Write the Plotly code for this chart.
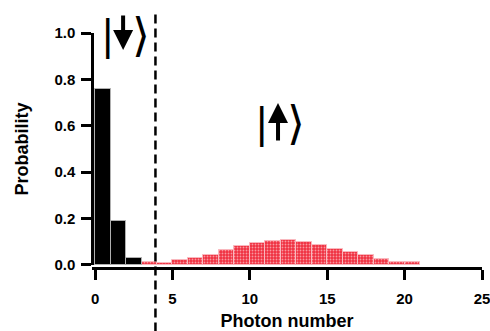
import plotly.graph_objects as go

# Data
down_n = [0, 1, 2]
down_p = [0.757, 0.19, 0.029]
up_n = list(range(3, 21))
up_p = [0.013, 0.009, 0.02, 0.031, 0.044, 0.066, 0.081, 0.093, 0.103, 0.107,
        0.100, 0.085, 0.071, 0.057, 0.042, 0.028, 0.014, 0.015]
x_ticks = [0, 5, 10, 15, 20, 25]
y_ticks = [0, 0.2, 0.4, 0.6, 0.8, 1.0]
threshold = 3.9

font_b = dict(family="Liberation Sans, Arial, sans-serif", size=15, color="black")

fig = go.Figure()
fig.add_trace(go.Bar(
    x=[n + 0.5 for n in up_n], y=up_p, width=1,
    marker=dict(color="#f03040", line=dict(color="#f9b8be", width=1),
                pattern=dict(shape=".", fgcolor="#ffffff", bgcolor="#f03040",
                             size=3, solidity=0.3)),
    showlegend=False))
fig.add_trace(go.Bar(
    x=[n + 0.5 for n in down_n], y=down_p, width=1,
    marker=dict(color="black", line=dict(color="#b0b0b0", width=1)),
    showlegend=False))

fig.add_shape(type="line", xref="x", yref="paper", x0=threshold, x1=threshold,
              y0=-0.27, y1=1.1, line=dict(color="black", width=2.5, dash="9px,5px"))

def ket(x_bar, x_arrow, x_bra, y_mid, head_y, ay):
    fig.add_annotation(x=x_bar, y=y_mid, xref="x", yref="y", text="|", showarrow=False,
                       font=dict(family="DejaVu Sans", size=40, color="black"),
                       xanchor="center", yanchor="middle")
    fig.add_annotation(x=x_bra, y=y_mid, xref="x", yref="y", text="⟩", showarrow=False,
                       font=dict(family="DejaVu Sans", size=46, color="black"),
                       xanchor="center", yanchor="middle")
    fig.add_annotation(x=x_arrow, y=head_y, xref="x", yref="y", text="",
                       showarrow=True, arrowhead=2, arrowwidth=4, arrowsize=1.0,
                       arrowcolor="black", ax=0, ay=ay, standoff=0)

ket(0.78, 1.81, 2.97, 0.99, 0.927, -36)
ket(10.78, 11.82, 13.0, 0.61, 0.698, 39)

fig.update_layout(
    width=490, height=331,
    margin=dict(l=92, r=8, t=33, b=63),
    paper_bgcolor="white", plot_bgcolor="white",
    bargap=0,
    font=font_b,
    xaxis=dict(range=[-0.2, 25], domain=[0.0, 1], anchor="free", position=0,
               tickvals=x_ticks, ticktext=["<b>%d</b>" % v for v in x_ticks],
               ticks="outside", ticklen=10, tickwidth=2.5, tickcolor="black",
               ticklabelstandoff=6, ticklabeloverflow="allow", automargin=False,
               showline=True, linewidth=2.5, linecolor="black", showgrid=False,
               zeroline=False,
               title=dict(text="<b>Photon number</b>", standoff=9),
               tickfont=dict(family="Liberation Sans, Arial", size=15)),
    yaxis=dict(range=[0, 1.0], domain=[0.0128, 1], anchor="free", position=0,
               tickvals=y_ticks, ticktext=["<b>%.1f</b>" % v for v in y_ticks],
               ticks="outside", ticklen=10, tickwidth=2.5, tickcolor="black",
               ticklabelstandoff=3, automargin=False,
               showline=True, linewidth=2.5, linecolor="black", showgrid=False,
               zeroline=False,
               title=dict(text="<b>Probability</b>", standoff=20),
               tickfont=dict(family="Liberation Sans, Arial", size=15)),
)

fig.write_html("out.html")
